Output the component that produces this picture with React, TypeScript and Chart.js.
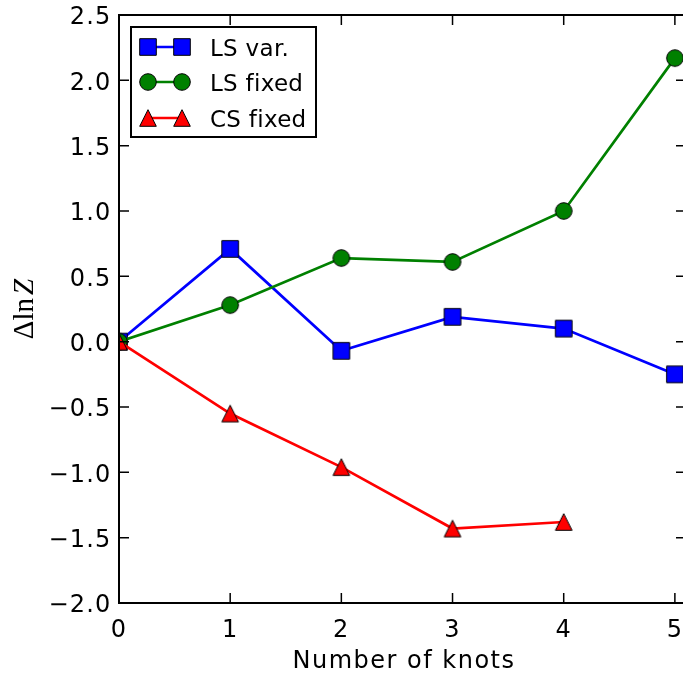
import React, { useEffect, useRef } from "react";
import { Chart, registerables } from "chart.js";

Chart.register(...registerables);

// ---- data ----
const knots = [0, 1, 2, 3, 4, 5];
const lsVar = [0.0, 0.71, -0.07, 0.19, 0.1, -0.25];
const lsFixed = [0.0, 0.28, 0.64, 0.61, 1.0, 2.17];
const csFixed = [0.0, -0.55, -0.96, -1.43, -1.38];
const xTicks = [0, 1, 2, 3, 4, 5];
const yTicks = [-2.0, -1.5, -1.0, -0.5, 0.0, 0.5, 1.0, 1.5, 2.0, 2.5];
const seriesLabels = ["LS var.", "LS fixed", "CS fixed"];
const seriesColors = ["#0000ff", "#008000", "#ff0000"];
const seriesShapes = ["square", "circle", "triangle"];
const xTitle = "Number of knots";

const FONT = "'DejaVu Sans', 'Liberation Sans', sans-serif";

function makeMarker(shape: string, fill: string): HTMLCanvasElement {
  const s = 20;
  const c = document.createElement("canvas");
  c.width = s;
  c.height = s;
  const g = c.getContext("2d")!;
  const m = s / 2;
  const h = 8.3;
  g.fillStyle = fill;
  g.strokeStyle = "#000";
  g.lineWidth = 1;
  g.beginPath();
  if (shape === "square") g.rect(m - h, m - h, 2 * h, 2 * h);
  else if (shape === "circle") g.arc(m, m, h, 0, Math.PI * 2);
  else {
    g.moveTo(m, m - h);
    g.lineTo(m + h, m + h);
    g.lineTo(m - h, m + h);
    g.closePath();
  }
  g.fill();
  g.stroke();
  return c;
}

const fmtY = (v: number) => v.toFixed(1).replace("-", "\u2212");

export default function App() {
  const ref = useRef<HTMLCanvasElement | null>(null);

  useEffect(() => {
    if (!ref.current) return;
    const markers = seriesShapes.map((s, i) => makeMarker(s, seriesColors[i]));
    const values = [lsVar, lsFixed, csFixed];

    const framePlugin = {
      id: "framePlugin",
      beforeDraw(chart: any) {
        // matplotlib (hinted Agg) text is slightly wider than canvas text
        chart.ctx.letterSpacing = "1.2px";
      },
      afterDatasetsDraw(chart: any) {
        const { ctx, chartArea: a } = chart;
        const xs = chart.scales.x;
        const ys = chart.scales.y;
        ctx.save();
        ctx.strokeStyle = "#000";
        ctx.lineWidth = 1.5;
        ctx.beginPath();
        xTicks.forEach((v) => {
          const px = xs.getPixelForValue(v);
          ctx.moveTo(px, a.bottom);
          ctx.lineTo(px, a.bottom - 10);
          ctx.moveTo(px, a.top);
          ctx.lineTo(px, a.top + 10);
        });
        yTicks.forEach((v) => {
          const py = ys.getPixelForValue(v);
          ctx.moveTo(a.left, py);
          ctx.lineTo(a.left + 10, py);
          ctx.moveTo(a.right, py);
          ctx.lineTo(a.right - 10, py);
        });
        ctx.stroke();
        ctx.lineWidth = 2;
        ctx.strokeRect(a.left, a.top, a.right - a.left, a.bottom - a.top);
        ctx.restore();
      },
      afterDraw(chart: any) {
        const { ctx, chartArea: a } = chart;
        ctx.save();
        // legend
        const bx = 131, by = 27, bw = 185, bh = 110;
        ctx.fillStyle = "#fff";
        ctx.fillRect(bx, by, bw, bh);
        ctx.strokeStyle = "#000";
        ctx.lineWidth = 2;
        ctx.strokeRect(bx, by, bw, bh);
        const rows = [47, 82, 118];
        seriesLabels.forEach((lab, i) => {
          const y = rows[i];
          ctx.strokeStyle = seriesColors[i];
          ctx.lineWidth = 2.7;
          ctx.beginPath();
          ctx.moveTo(148, y);
          ctx.lineTo(182, y);
          ctx.stroke();
          const mk = markers[i];
          ctx.drawImage(mk, 148 - mk.width / 2, y - mk.height / 2);
          ctx.drawImage(mk, 182 - mk.width / 2, y - mk.height / 2);
          ctx.fillStyle = "#000";
          ctx.font = `23px ${FONT}`;
          ctx.letterSpacing = "0.3px";
          ctx.textAlign = "left";
          ctx.textBaseline = "alphabetic";
          ctx.fillText(lab, 210, y + 8.5);
        });
        // x title
        ctx.fillStyle = "#000";
        ctx.font = `24px ${FONT}`;
        ctx.letterSpacing = "1.5px";
        ctx.textAlign = "center";
        ctx.textBaseline = "alphabetic";
        ctx.fillText(xTitle, 404, 668);
        // y title  Δln Z
        ctx.letterSpacing = "0px";
        ctx.translate(33, (a.top + a.bottom) / 2);
        ctx.rotate(-Math.PI / 2);
        const f1 = "29px 'Liberation Serif', 'DejaVu Serif', serif";
        const f2 = "italic 29px 'Liberation Serif', 'DejaVu Serif', serif";
        ctx.font = f1;
        const w1 = ctx.measureText("\u0394ln").width;
        ctx.font = f2;
        const w2 = ctx.measureText("Z").width;
        const gap = 3;
        const total = w1 + gap + w2;
        ctx.textAlign = "left";
        ctx.font = f1;
        ctx.fillText("\u0394ln", -total / 2, 0);
        ctx.font = f2;
        ctx.fillText("Z", -total / 2 + w1 + gap, 0);
        ctx.restore();
      },
    };

    const chart = new Chart(ref.current, {
      type: "line",
      data: {
        datasets: values.map((vals, i) => ({
          label: seriesLabels[i],
          data: vals.map((y, j) => ({ x: knots[j], y })),
          borderColor: seriesColors[i],
          backgroundColor: seriesColors[i],
          borderWidth: 2.7,
          pointStyle: markers[i] as any,
          pointRadius: 8,
          pointHoverRadius: 8,
          fill: false,
          tension: 0,
          clip: 0,
          order: 2 - i,
        })),
      },
      options: {
        animation: false,
        responsive: false,
        events: [],
        layout: { autoPadding: false, padding: { top: 15, right: 4, left: 0, bottom: 0 } },
        plugins: {
          legend: { display: false },
          tooltip: { enabled: false },
          title: { display: false },
        },
        scales: {
          x: {
            type: "linear",
            min: 0,
            max: 5.1,
            afterBuildTicks: (s: any) => {
              s.ticks = xTicks.map((v) => ({ value: v }));
            },
            afterFit: (s: any) => {
              s.height = 70;
              s.paddingLeft = 0;
              s.paddingRight = 0;
            },
            grid: { display: false, drawTicks: false },
            border: { display: false },
            ticks: {
              autoSkip: false,
              maxRotation: 0,
              padding: 13,
              color: "#000",
              font: { family: FONT, size: 24 },
              callback: (v: any) => String(v),
            },
          },
          y: {
            type: "linear",
            min: -2,
            max: 2.5,
            afterBuildTicks: (s: any) => {
              s.ticks = yTicks.map((v) => ({ value: v }));
            },
            afterFit: (s: any) => {
              s.width = 119;
              s.paddingTop = 0;
              s.paddingBottom = 0;
            },
            grid: { display: false, drawTicks: false },
            border: { display: false },
            ticks: {
              autoSkip: false,
              padding: 7.5,
              labelOffset: 3,
              color: "#000",
              font: { family: FONT, size: 24 },
              callback: (v: any) => fmtY(Number(v)),
            },
          },
        },
      },
      plugins: [framePlugin],
    });
    return () => chart.destroy();
  }, []);

  return (
    <div
      style={{
        position: "absolute",
        left: 0,
        top: 0,
        width: 683,
        height: 673,
        overflow: "hidden",
        background: "#fff",
      }}
    >
      <canvas ref={ref} width={690} height={673} style={{ display: "block" }} />
    </div>
  );
}
